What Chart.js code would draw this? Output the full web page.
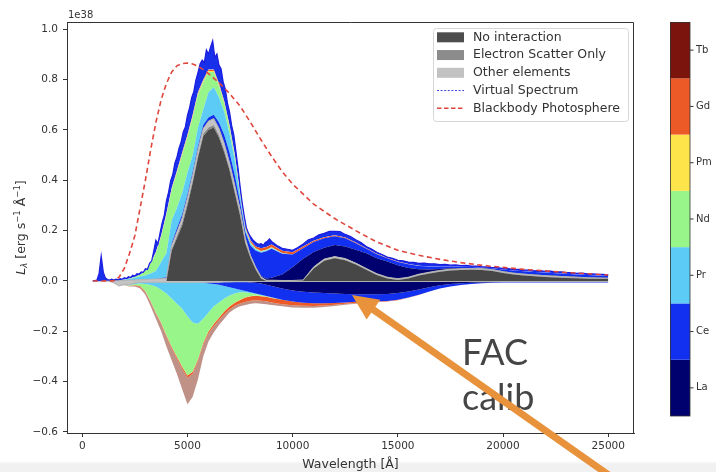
<!DOCTYPE html>
<html>
<head>
<meta charset="utf-8">
<script src="https://cdn.jsdelivr.net/npm/chart.js@4.4.1/dist/chart.umd.min.js"></script>
<style>
  html, body { margin: 0; padding: 0; background: #fff; }
  #wrap { position: relative; width: 716px; height: 472px;
          background: linear-gradient(to bottom, #fff 0, #fff 461px, #f1f1f1 464px, #f1f1f1 472px); }
  canvas { position: absolute; left: 0; top: 0; }
</style>
</head>
<body>
<div id="wrap"><canvas id="spec" width="716" height="472"></canvas></div>
<script>
// Wavelength bins of the stacked spectrum [Å]
const wavelength = [500,750,1000,1250,1500,1750,2000,2250,2500,2750,3000,3250,3500,3750,4000,
  4250,4500,4750,5000,5250,5500,5750,6000,6250,6500,6750,7000,7250,7500,7750,
  8000,8250,8500,8750,9000,
  9500,10000,10500,11000,11500,12000,12500,13000,13500,14000,14500,15000,
  15500,16000,16500,17000,17500,18000,18500,19000,19500,20000,20500,21000,21500,22000,22500,23000,23500,24000,24500,25000];

// Escaping luminance per bin, split by last interaction [1e38 erg/s/Å]
const noInteraction = [0,0,0,0,0, 0,0,0,0,0, 0,0,0,0,0,
  0.12,0.17,0.22,0.30,0.39, 0.49,0.575,0.60,0.61,0.57, 0.51,0.44,0.35,0.26,0.15,
  0.09,0.045,0.01,0,0,
  0,0,0.002,0.05,0.08, 0.09,0.082,0.065,0.045,0.024, 0.01,0.004,
  0.01,0.022,0.03,0.037,0.042, 0.044,0.045,0.044,0.04,0.032, 0.026,0.022,0.019,0.016,0.014, 0.012,0.011,0.009,0.008,0.008];
const electronScatter = [0,0,0,0,0, 0,0,0,0,0, 0,0,0,0,0,
  0.007,0.01,0.012,0.012,0.01, 0.01,0.01,0.01,0.01,0.01, 0.01,0.01,0.01,0.01,0.005,
  0.004,0.003,0.002,0.001,0.001,
  0,0,0,0.002,0.002, 0.002,0.002,0.002,0.002,0.002, 0.002,0.002,
  0.002,0.002,0.002,0.002,0.002, 0.002,0.002,0.002,0.002,0.002, 0.002,0.002,0.002,0.002,0.002, 0.002,0.002,0.002,0.002,0.002];
const otherElements = [0,0,0,0.001,0.001, 0.002,0.002,0.003,0.004,0.005, 0.006,0.007,0.008,0.009,0.01,
  0.013,0.015,0.018,0.018,0.02, 0.02,0.02,0.025,0.025,0.025, 0.025,0.02,0.02,0.015,0.015,
  0.006,0.006,0.004,0.002,0.002,
  0.002,0.002,0.002,0.004,0.005, 0.005,0.005,0.004,0.003,0.003, 0.003,0.003,
  0.003,0.003,0.003,0.003,0.003, 0.003,0.003,0.003,0.003,0.003, 0.003,0.003,0.003,0.003,0.003, 0.003,0.002,0.002,0.002,0.001];
const laEmit = [0,0,0,0,0, 0,0,0,0,0, 0,0,0,0,0,
  0.001,0.002,0.002,0.002,0.002, 0.002,0.002,0.002,0.002,0.003, 0.003,0.003,0.003,0.003,0.003,
  0.002,0.003,0.004,0.007,0.01,
  0.024,0.053,0.084,0.059,0.045, 0.046,0.048,0.053,0.06,0.061, 0.062,0.054,
  0.037,0.02,0.011,0.006,0.004, 0.003,0.002,0.002,0.002,0.002, 0.002,0.002,0.002,0.002,0.002, 0.002,0.002,0.002,0.002,0.002];
const ceEmit = [0,0,0,0,0, 0,0,0,0,0, 0,0,0,0.003,0.005,
  0.009,0.013,0.013,0.013,0.013, 0.013,0.013,0.013,0.013,0.022, 0.032,0.037,0.037,0.027,0.022,
  0.038,0.063,0.092,0.108,0.115,
  0.082,0.05,0.042,0.04,0.038, 0.035,0.033,0.026,0.018,0.016, 0.013,0.012,
  0.014,0.013,0.012,0.009,0.006, 0.005,0.004,0.003,0.004,0.007, 0.009,0.01,0.01,0.011,0.01, 0.01,0.009,0.009,0.008,0.007];
const prEmit = [0,0,0,0,0, 0.001,0.003,0.005,0.009,0.013, 0.016,0.023,0.032,0.063,0.095,
  0.09,0.08,0.085,0.085,0.065, 0.075,0.06,0.10,0.11,0.10, 0.09,0.075,0.06,0.025,0.01,
  0.008,0.005,0.004,0.003,0.003,
  0.002,0,0,0,0, 0,0,0,0,0, 0,0,
  0,0,0,0,0, 0,0,0,0,0, 0,0,0,0,0, 0,0,0,0,0];
const ndEmit = [0,0,0,0,0, 0,0.001,0.002,0.004,0.007, 0.018,0.04,0.07,0.10,0.15,
  0.12,0.14,0.15,0.14,0.15, 0.13,0.11,0.08,0.06,0.045, 0.035,0.025,0.015,0.006,0.004,
  0.004,0.003,0.002,0.002,0.002,
  0.001,0,0,0,0, 0,0,0,0,0, 0,0,
  0,0,0,0,0, 0,0,0,0,0, 0,0,0,0,0, 0,0,0,0,0];
const pmEmit = [0,0,0,0,0, 0,0,0,0,0, 0,0,0.002,0.002,0.003,
  0.003,0.003,0.004,0.004,0.004, 0.004,0.004,0.004,0.004,0.004, 0.003,0.003,0.002,0.002,0.002,
  0.001,0.001,0.001,0.001,0.001,
  0,0,0,0,0, 0,0,0,0,0, 0,0,
  0,0,0,0,0, 0,0,0,0,0, 0,0,0,0,0, 0,0,0,0,0];
const gdEmit = [0,0,0,0,0, 0,0,0,0,0, 0,0,0.002,0.002,0.003,
  0.003,0.003,0.004,0.004,0.004, 0.004,0.004,0.004,0.004,0.004, 0.004,0.004,0.004,0.005,0.006,
  0.007,0.008,0.011,0.011,0.011,
  0.009,0.009,0.007,0.005,0.004, 0.004,0.003,0.003,0.002,0.002, 0.002,0.002,
  0.001,0.001,0,0,0, 0,0,0,0,0, 0,0,0,0,0, 0,0,0,0,0];
const tbEmit = [0,0,0,0,0, 0,0,0,0,0, 0,0,0.001,0.002,0.002,
  0.002,0.002,0.002,0.002,0.002, 0.002,0.002,0.002,0.002,0.002, 0.002,0.002,0.002,0.002,0.002,
  0.001,0,0,0,0,
  0,0,0,0,0, 0,0,0,0,0, 0,0,
  0,0,0,0,0, 0,0,0,0,0, 0,0,0,0,0, 0,0,0,0,0];

// Absorbed luminance per bin, by absorbing species (negative) [1e38 erg/s/Å]
const otherAbs = [0,0,0,0,-0.008, -0.02,-0.012,-0.015,-0.008,-0.005, -0.005,-0.005,-0.005,-0.005,-0.005,
  -0.005,-0.005,-0.005,-0.005,-0.005, -0.005,-0.005,-0.005,-0.005,-0.005, -0.004,-0.004,-0.003,-0.003,-0.003,
  -0.003,-0.002,-0.002,-0.002,-0.002,
  -0.002,-0.002,-0.002,-0.002,-0.002, -0.002,-0.002,-0.002,-0.002,-0.002, -0.002,-0.002,
  -0.002,-0.002,-0.002,-0.002,-0.002, -0.002,-0.002,-0.002,-0.002,-0.002, -0.002,-0.002,-0.002,-0.002,-0.002, -0.002,-0.002,-0.002,-0.002,-0.002];
const laAbs = [0,0,0,0,0, 0,0,0,0,0, 0,0,0,0,0,
  0,0,0,0,0, 0,0,0,0,0, 0,0,0,0,0,
  -0.003,-0.005,-0.008,-0.013,-0.018,
  -0.028,-0.036,-0.041,-0.044,-0.046, -0.048,-0.05,-0.051,-0.051,-0.051, -0.05,-0.046,
  -0.04,-0.032,-0.023,-0.015,-0.01, -0.007,-0.005,-0.004,-0.003,-0.002, -0.002,-0.002,-0.002,-0.002,-0.002, -0.002,-0.002,-0.002,-0.002,-0.002];
const ceAbs = [0,0,0,0,0, 0,0,0,0,0, 0,0,0,0,0,
  0,0,0,0,0, 0,0,-0.005,-0.007,-0.01, -0.016,-0.021,-0.027,-0.032,-0.037,
  -0.039,-0.043,-0.045,-0.045,-0.045,
  -0.045,-0.044,-0.043,-0.042,-0.04, -0.037,-0.033,-0.03,-0.029,-0.028, -0.028,-0.027,
  -0.024,-0.021,-0.017,-0.013,-0.01, -0.007,-0.005,-0.003,-0.002,-0.002, -0.002,-0.002,-0.002,-0.002,-0.002, -0.002,-0.002,-0.002,-0.002,-0.002];
const prAbs = [0,0,0,0,0, 0,-0.002,-0.002,-0.004,-0.005, -0.007,-0.011,-0.017,-0.03,-0.045,
  -0.065,-0.085,-0.105,-0.135,-0.16, -0.165,-0.145,-0.115,-0.088,-0.07, -0.05,-0.033,-0.02,-0.01,-0.005,
  -0.003,-0.002,-0.002,-0.001,-0.001,
  0,0,0,0,0, 0,0,0,0,0, 0,0,
  0,0,0,0,0, 0,0,0,0,0, 0,0,0,0,0, 0,0,0,0,0];
const ndAbs = [0,0,0,0,0, 0,-0.001,-0.002,-0.004,-0.01, -0.028,-0.064,-0.103,-0.13,-0.165,
  -0.19,-0.21,-0.23,-0.235,-0.195, -0.14,-0.095,-0.075,-0.07,-0.06, -0.05,-0.042,-0.035,-0.03,-0.02,
  -0.012,-0.006,-0.003,-0.001,-0.001,
  0,0,0,0,0, 0,0,0,0,0, 0,0,
  0,0,0,0,0, 0,0,0,0,0, 0,0,0,0,0, 0,0,0,0,0];
const pmAbs = [0,0,0,0,0, 0,0,0,0,0, -0.001,-0.001,-0.001,-0.001,-0.001,
  -0.001,-0.001,-0.001,-0.001,-0.001, -0.001,-0.001,-0.001,-0.001,-0.001, -0.001,-0.001,-0.001,-0.001,-0.001,
  -0.001,-0.001,-0.001,-0.001,-0.001,
  0,0,0,0,0, 0,0,0,0,0, 0,0,
  0,0,0,0,0, 0,0,0,0,0, 0,0,0,0,0, 0,0,0,0,0];
const gdAbs = [0,0,0,0,0, 0,0,-0.001,-0.002,-0.004, -0.002,-0.003,-0.003,-0.004,-0.005,
  -0.006,-0.007,-0.008,-0.008,-0.008, -0.007,-0.007,-0.008,-0.009,-0.009, -0.011,-0.012,-0.012,-0.013,-0.018,
  -0.018,-0.018,-0.018,-0.018,-0.017,
  -0.017,-0.014,-0.012,-0.011,-0.009, -0.007,-0.005,-0.004,-0.003,-0.002, -0.002,-0.002,
  -0.001,-0.001,0,0,0, 0,0,0,0,0, 0,0,0,0,0, 0,0,0,0,0];
const tbAbs = [0,0,0,0,0, 0,-0.002,-0.002,-0.004,-0.006, -0.012,-0.016,-0.021,-0.03,-0.039,
  -0.048,-0.062,-0.081,-0.106,-0.091, -0.072,-0.047,-0.031,-0.025,-0.02, -0.018,-0.012,-0.012,-0.011,-0.011,
  -0.011,-0.011,-0.011,-0.011,-0.01,
  -0.008,-0.009,-0.008,-0.007,-0.006, -0.005,-0.004,-0.003,-0.002,-0.001, 0,0,
  0,0,0,0,0, 0,0,0,0,0, 0,0,0,0,0, 0,0,0,0,0];

// Virtual-packet spectrum on its own finer grid
const vsWave = [500,600,700,800,900,1000,1100,1200,1300,1400,
  1500,1600,1700,1800,1900,2000,2100,2200,2300,2400,
  2500,2600,2700,2800,2900,3000,3100,3200,3300,3400,
  3500,3600,3700,3800,3900,4000,4100,4200,4300,4400,
  4500,4600,4700,4800,4900,5000,5100,5200,5300,5400,
  5500,5600,5700,5800,5900,6000,6100,6200,6300,6400,
  6500,6600,6700,6800,6900,7000,7100,7200,7300,7400,
  7500,7600,7700,7800,7900,8000,8100,8200,8300,8400,
  8500,8600,8700,8800,8900,9000,
  9250,9500,9750,10000,10250,10500,10750,11000,11250,11500,11750,12000,
  12250,12500,12750,13000,13250,13500,13750,14000,14250,14500,14750,15000,
  15250,15500,15750,16000,16250,16500,16750,17000,17250,17500,17750,18000,
  18250,18500,18750,19000,19250,19500,19750,20000,20250,20500,20750,21000,
  21250,21500,21750,22000,22250,22500,22750,23000,23250,23500,23750,24000,
  24250,24500,24750,25000];
const vsFlux = [0.001,0.002,0.004,0.03,0.10,0.035,0.012,0.006,0.004,0.007,
  0.004,0.007,0.005,0.009,0.007,0.013,0.01,0.017,0.014,0.023,
  0.02,0.029,0.027,0.036,0.034,0.049,0.046,0.07,0.08,0.12,
  0.162,0.148,0.192,0.232,0.262,0.318,0.352,0.398,0.422,0.468,
  0.492,0.528,0.552,0.592,0.612,0.658,0.688,0.728,0.752,0.798,
  0.828,0.862,0.878,0.868,0.918,0.902,0.93,0.955,0.888,0.902,
  0.858,0.842,0.79,0.762,0.708,0.672,0.618,0.582,0.518,0.452,
  0.378,0.312,0.258,0.212,0.19,0.176,0.164,0.156,0.149,0.146,
  0.148,0.142,0.153,0.158,0.167,0.157,
  0.141,0.13,0.126,0.122,0.133,0.147,0.164,0.171,0.183,0.189,0.197,0.197,
  0.196,0.185,0.177,0.164,0.153,0.137,0.127,0.114,0.105,0.095,0.09,0.082,
  0.08,0.075,0.074,0.07,0.071,0.068,0.068,0.065,0.066,0.063,0.064,0.061,
  0.062,0.059,0.059,0.056,0.056,0.053,0.053,0.049,0.049,0.045,0.046,0.043,
  0.043,0.04,0.041,0.038,0.039,0.036,0.036,0.033,0.033,0.03,0.031,0.028,
  0.028,0.026,0.026,0.024];

// Blackbody photosphere curve
const bbWave = [500,1000,1500,1750,2000,2250,2500,2750,3000,3250,3500,3750,4000,4250,4500,4750,
  5000,5250,5500,5750,6000,6500,7000,7500,8000,8500,9000,9500,10000,
  11000,12000,13000,14000,15000,16000,17000,18000,19000,20000,21000,22000,23000,24000,25000];
const bbFlux = [0,0,0.001,0.015,0.05,0.11,0.18,0.29,0.40,0.52,0.63,0.72,0.785,0.83,0.855,0.864,
  0.866,0.862,0.853,0.84,0.824,0.788,0.745,0.695,0.63,0.56,0.495,0.435,0.385,
  0.305,0.248,0.2,0.155,0.122,0.102,0.086,0.073,0.062,0.054,0.046,0.04,0.034,0.029,0.024];

// Axis ticks and labels
const xTicks = [0, 5000, 10000, 15000, 20000, 25000];
const xTickLabels = ['0', '5000', '10000', '15000', '20000', '25000'];
const yTicks = [-0.6, -0.4, -0.2, 0, 0.2, 0.4, 0.6, 0.8, 1.0];
const yTickLabels = ['\u22120.6', '\u22120.4', '\u22120.2', '0.0', '0.2', '0.4', '0.6', '0.8', '1.0'];
const elements = ['La', 'Ce', 'Pr', 'Nd', 'Pm', 'Gd', 'Tb'];
const legendLabels = ['No interaction', 'Electron Scatter Only', 'Other elements', 'Virtual Spectrum', 'Blackbody Photosphere'];

// ---- styling ----
const FONT = '"DejaVu Sans", sans-serif';
const TEXT = '#333';
const elementColors = { La: '#00006e', Ce: '#1230f0', Pr: '#5ccbf5', Nd: '#98f58a', Pm: '#fde44a', Gd: '#ec5a28', Tb: '#7a140c' };
const fillColors = { ...elementColors, Tb: 'rgba(150,72,55,0.6)' };
const grayColors = ['#474747', '#8a8a8a', '#c4c4c4'];
const NONE = 'rgba(0,0,0,0)';

const pts = (xs, ys) => xs.map((x, i) => ({ x, y: ys[i] }));

const emissionLayers = [noInteraction, electronScatter, otherElements, laEmit, ceEmit, prEmit, ndEmit, pmEmit, gdEmit, tbEmit];
const absorptionLayers = [otherAbs, laAbs, ceAbs, prAbs, ndAbs, pmAbs, gdAbs, tbAbs];
const emissionColors = [...grayColors, ...elements.map(e => fillColors[e])];
const absorptionColors = [grayColors[2], ...elements.map(e => fillColors[e])];

const datasets = [];
datasets.push({
  label: 'Blackbody Photosphere', data: pts(bbWave, bbFlux), stack: 'bb',
  borderColor: '#e0463c', borderWidth: 1.6, borderDash: [5, 3.5], fill: false
});
const firstEmission = 2;
const topEmission = firstEmission + emissionLayers.length - 1;
datasets.push({
  label: 'Virtual Spectrum', data: pts(vsWave, vsFlux), stack: 'vs',
  borderColor: '#1c1ce0', borderWidth: 1.2,
  fill: { target: topEmission, above: '#1830ea', below: NONE }
});
emissionLayers.forEach((vals, i) => {
  const outline = i === 2;
  datasets.push({
    data: pts(wavelength, vals), stack: 'emission',
    backgroundColor: emissionColors[i],
    borderColor: outline ? '#b2b2b2' : NONE, borderWidth: outline ? 1 : 0,
    fill: i === 0 ? 'origin' : '-1'
  });
});
absorptionLayers.forEach((vals, i) => {
  const outline = i === 0;
  datasets.push({
    data: pts(wavelength, vals), stack: 'absorption',
    backgroundColor: absorptionColors[i],
    borderColor: outline ? '#b2b2b2' : NONE, borderWidth: outline ? 1 : 0,
    fill: i === 0 ? 'origin' : '-1'
  });
});

// Spines, offset text, axis label, legend, colour bar and annotation
const overlay = {
  id: 'overlay',
  afterDraw(chart) {
    const { ctx, chartArea: a } = chart;
    ctx.save();

    // top and right spines
    ctx.strokeStyle = TEXT; ctx.lineWidth = 1;
    ctx.beginPath();
    ctx.moveTo(a.left, a.top + 0.5);
    ctx.lineTo(a.right - 0.5, a.top + 0.5);
    ctx.lineTo(a.right - 0.5, a.bottom);
    ctx.stroke();

    // scale factor of the y axis
    ctx.fillStyle = TEXT;
    ctx.font = '10px ' + FONT;
    ctx.textBaseline = 'middle'; ctx.textAlign = 'left';
    ctx.fillText('1e38', a.left + 1, 15);

    // y axis label  L_λ [erg s^-1 Å^-1]
    const parts = [
      { t: 'L', f: 'italic 12.5px ' + FONT, dy: 0 },
      { t: '\u03bb', f: 'italic 8.5px ' + FONT, dy: 3 },
      { t: ' [erg s', f: '12.5px ' + FONT, dy: 0 },
      { t: '\u22121', f: '8.5px ' + FONT, dy: -4.5 },
      { t: ' \u00c5', f: '12.5px ' + FONT, dy: 0 },
      { t: '\u22121', f: '8.5px ' + FONT, dy: -4.5 },
      { t: ']', f: '12.5px ' + FONT, dy: 0 }
    ];
    let total = 0;
    parts.forEach(p => { ctx.font = p.f; p.w = ctx.measureText(p.t).width; total += p.w; });
    ctx.translate(22, (a.top + a.bottom) / 2);
    ctx.rotate(-Math.PI / 2);
    let px = -total / 2;
    parts.forEach(p => { ctx.font = p.f; ctx.fillText(p.t, px, p.dy); px += p.w; });
    ctx.setTransform(1, 0, 0, 1, 0, 0);

    // legend
    const lx = 433, ly = 28, lw = 195, lh = 93;
    ctx.fillStyle = 'rgba(255,255,255,0.85)';
    ctx.strokeStyle = '#d6d6d6'; ctx.lineWidth = 1;
    ctx.beginPath(); ctx.roundRect(lx + 0.5, ly + 0.5, lw, lh, 3); ctx.fill(); ctx.stroke();
    legendLabels.forEach((label, i) => {
      const y = 37.3 + i * 17.75;
      if (i < 3) {
        ctx.fillStyle = ['#4d4d4d', '#8c8c8c', '#c2c2c2'][i];
        ctx.fillRect(437, y - 5, 27, 10);
      } else {
        ctx.beginPath();
        ctx.strokeStyle = i === 3 ? '#3c3ce0' : '#e0463c';
        ctx.lineWidth = i === 3 ? 1 : 1.4;
        ctx.setLineDash(i === 3 ? [2, 1.6] : [4.5, 2.5]);
        ctx.moveTo(437, y); ctx.lineTo(464, y); ctx.stroke();
        ctx.setLineDash([]);
      }
      ctx.fillStyle = TEXT;
      ctx.font = '12.5px ' + FONT;
      ctx.fillText(label, 473, y);
    });

    // colour bar of absorbing / emitting species
    const cb = { x: 670, y: 22, w: 20, h: 394 };
    const seg = cb.h / elements.length;
    ctx.font = '10px ' + FONT;
    elements.forEach((el, i) => {
      const top = cb.y + cb.h - (i + 1) * seg;
      ctx.fillStyle = elementColors[el];
      ctx.fillRect(cb.x, top, cb.w, seg);
      const cy = top + seg / 2;
      ctx.strokeStyle = TEXT; ctx.lineWidth = 1;
      ctx.beginPath(); ctx.moveTo(cb.x + cb.w, cy); ctx.lineTo(cb.x + cb.w + 3.5, cy); ctx.stroke();
      ctx.fillStyle = TEXT;
      ctx.fillText(el, cb.x + cb.w + 6, cy);
    });
    ctx.strokeStyle = TEXT; ctx.lineWidth = 0.8;
    ctx.strokeRect(cb.x + 0.5, cb.y + 0.5, cb.w - 0.5, cb.h - 0.5);

    // annotation text
    ctx.fillStyle = '#454545';
    ctx.font = '36px Lato, "Open Sans", sans-serif';
    ctx.textBaseline = 'alphabetic';
    ctx.fillText('FAC', 462, 365);
    ctx.fillText('calib', 462, 410);

    // annotation arrow
    const tip = { x: 352, y: 295 };
    const ux = 0.8245, uy = 0.5657, head = 26, half = 12;
    const bx = tip.x + ux * head, by = tip.y + uy * head;
    ctx.strokeStyle = '#e8923c'; ctx.fillStyle = '#e8923c';
    ctx.lineWidth = 7; ctx.lineCap = 'butt';
    ctx.beginPath(); ctx.moveTo(bx - ux * 2, by - uy * 2); ctx.lineTo(640, 497); ctx.stroke();
    ctx.beginPath();
    ctx.moveTo(tip.x, tip.y);
    ctx.lineTo(bx - uy * half, by + ux * half);
    ctx.lineTo(bx + uy * half, by - ux * half);
    ctx.closePath(); ctx.fill();

    ctx.restore();
  }
};

new Chart(document.getElementById('spec'), {
  type: 'line',
  data: { datasets },
  options: {
    responsive: false,
    animation: false,
    devicePixelRatio: 1,
    layout: { padding: { left: 0, right: 82, top: 22, bottom: 0 } },
    elements: { point: { radius: 0 }, line: { tension: 0 } },
    plugins: { legend: { display: false }, tooltip: { enabled: false } },
    scales: {
      x: {
        type: 'linear', min: -725, max: 26225,
        afterBuildTicks: ax => { ax.ticks = xTicks.map(v => ({ value: v })); },
        afterFit: s => { s.height = 39; },
        ticks: { callback: (v, i) => xTickLabels[i], font: { family: FONT, size: 10.5 }, color: TEXT, padding: 3, maxRotation: 0, autoSkip: false },
        grid: { drawOnChartArea: false, drawTicks: true, tickLength: 4, color: TEXT },
        border: { display: true, color: TEXT, width: 1 },
        title: { display: true, text: 'Wavelength [\u00c5]', font: { family: FONT, size: 12.5 }, color: TEXT, padding: { top: 0, bottom: 0 } }
      },
      y: {
        stacked: true, min: -0.604, max: 1.029,
        afterBuildTicks: ax => { ax.ticks = yTicks.map(v => ({ value: v })); },
        afterFit: s => { s.width = 67; },
        ticks: { callback: (v, i) => yTickLabels[i], font: { family: FONT, size: 10.5 }, color: TEXT, padding: 5, autoSkip: false },
        grid: { drawOnChartArea: false, drawTicks: true, tickLength: 4, color: TEXT },
        border: { display: true, color: TEXT, width: 1 }
      }
    }
  },
  plugins: [overlay]
});
</script>
</body>
</html>
